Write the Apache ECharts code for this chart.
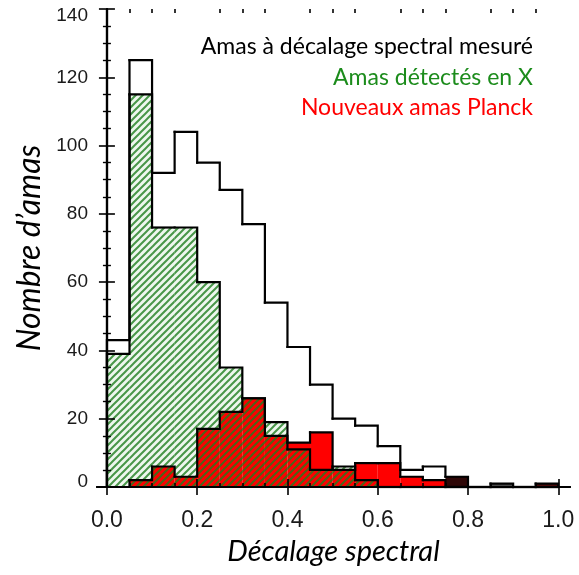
<!DOCTYPE html>
<html>
<head>
<meta charset="utf-8">
<script src="https://cdn.jsdelivr.net/npm/echarts@6/dist/echarts.min.js"></script>
<style>
  html, body { margin: 0; padding: 0; background: #fff; }
  #chart { width: 579px; height: 575px; }
</style>
</head>
<body>
<div id="chart"></div>
<script>
// Redshift histogram: bins of width 0.05 from 0.0 to 1.0
const binLeft = [0.00, 0.05, 0.10, 0.15, 0.20, 0.25, 0.30, 0.35, 0.40, 0.45,
                 0.50, 0.55, 0.60, 0.65, 0.70, 0.75, 0.80, 0.85, 0.90, 0.95];
const binWidth = 0.05;

// All clusters with a measured redshift
const totalCounts  = [43, 125, 92, 104, 95, 87, 77, 54, 41, 30, 20, 18, 12, 5, 6, 3, 0, 1, 0, 1];
// X-ray detected clusters
const xrayCounts   = [39, 115, 76, 76, 60, 35, 26, 19, 11, 5, 6, 2, 0, 0, 0, 0, 0, 0, 0, 0];
// New Planck clusters
const planckCounts = [0, 2, 6, 3, 17, 22, 26, 15, 13, 16, 5, 7, 7, 3, 2, 0, 0, 0, 0, 0];

const xTickLabels = [0.0, 0.2, 0.4, 0.6, 0.8, 1.0];
const legendTexts = ['Amas à décalage spectral mesuré', 'Amas détectés en X', 'Nouveaux amas Planck'];

// Dark fills of a few high-redshift bins of the full sample
const totalBinFill = { 15: '#2e0707', 17: '#5c5c5c', 19: '#5a0d0d' };

// Diagonal "/" hatch tile for the X-ray histogram
function makeHatch(p, color, width) {
  const c = document.createElement('canvas');
  c.width = p; c.height = p;
  const g = c.getContext('2d');
  g.strokeStyle = color;
  g.lineWidth = width;
  g.beginPath();
  for (const k of [0, 1, 2]) {          // lines x + y = k * p
    g.moveTo(-p, (k + 1) * p); g.lineTo((k + 1) * p, -p);
  }
  g.stroke();
  return c;
}
const hatchCanvas = makeHatch(7, 'rgba(30,125,30,0.8)', 2);

function toData(counts) {
  return binLeft.map((x, i) => [x, counts[i], i]);
}

function fillSeries(name, counts, fillFn, z) {
  return {
    type: 'custom', name, z, silent: true,
    xAxisIndex: 0, yAxisIndex: 0,
    data: toData(counts),
    encode: { x: 0, y: 1 },
    renderItem(params, api) {
      const x0 = api.value(0), v = api.value(1);
      if (!v) return null;
      const p0 = api.coord([x0, v]);
      const p1 = api.coord([x0 + binWidth, 0]);
      return {
        type: 'rect',
        shape: { x: p0[0], y: p0[1], width: p1[0] - p0[0], height: p1[1] - p0[1] },
        style: { fill: fillFn(api.value(2)), stroke: null }
      };
    }
  };
}

function outlineSeries(name, counts, z) {
  return {
    type: 'custom', name, z, silent: true,
    xAxisIndex: 0, yAxisIndex: 0,
    data: toData(counts),
    encode: { x: 0, y: 1 },
    renderItem(params, api) {
      const i = api.value(2);
      const x0 = api.value(0), v = api.value(1);
      const next = i + 1 < counts.length ? counts[i + 1] : 0;
      const pts = [];
      if (i === 0) pts.push(api.coord([x0, 0]));
      pts.push(api.coord([x0, v]));
      pts.push(api.coord([x0 + binWidth, v]));
      pts.push(api.coord([x0 + binWidth, next]));
      return {
        type: 'polyline',
        shape: { points: pts },
        style: { stroke: '#000', lineWidth: 2.2, fill: null, lineJoin: 'miter', lineCap: 'square' }
      };
    }
  };
}

const frameLine = { show: true, lineStyle: { color: '#000', width: 2.2 } };
const noLine = { show: false };
const tickFont = { fontFamily: 'Liberation Sans', color: '#1a1a1a' };
const titleFont = { fontFamily: 'Lato', fontStyle: 'italic', color: '#000' };

const xExtent = { min: -0.022, max: 1.026 };
const minorX = binLeft.concat([1.0]).filter(v => xTickLabels.every(m => Math.abs(m - v) > 1e-9));

function xAxisDef(gridIndex, position, values, len, line, withLabels) {
  return {
    type: 'value', gridIndex, position, ...xExtent, z: 20,
    axisLine: line,
    splitLine: { show: false },
    axisTick: { show: true, inside: true, length: len, customValues: values, lineStyle: { color: '#000', width: 1.6 } },
    axisLabel: withLabels
      ? Object.assign({ show: true, customValues: xTickLabels, margin: 22, fontSize: 23,
                        formatter: v => v.toFixed(1) }, tickFont)
      : { show: false }
  };
}

// End labels of the count axis sit slightly inside the frame
const yLabelRich = {
  top: { fontSize: 19, padding: [14, 0, 0, 0] },
  bot: { fontSize: 19, padding: [0, 0, 11, 0] },
  mid: { fontSize: 19 }
};

function yAxisDef(gridIndex, position, withLabels, visible) {
  return {
    type: 'value', gridIndex, position, min: 0, max: 140, interval: 20, z: 20,
    show: visible,
    axisLine: frameLine,
    splitLine: { show: false },
    axisTick: { show: true, inside: true, length: 8, lineStyle: { color: '#000', width: 1.6 } },
    minorTick: { show: true, splitNumber: 4, length: 4, lineStyle: { color: '#000', width: 1.4 } },
    axisLabel: withLabels
      ? Object.assign({
          show: true, margin: 9, fontSize: 19, rich: yLabelRich,
          formatter: v => (v === 140 ? '{top|' + v + '}' : v === 0 ? '{bot|' + v + '}' : '{mid|' + v + '}')
        }, tickFont)
      : { show: false },
    name: withLabels ? 'Nombre d’amas' : '',
    nameLocation: 'middle',
    nameGap: 48,
    nameTextStyle: Object.assign({ fontSize: 32 }, titleFont)
  };
}

// Grid 0 carries the data, the frame and the major x ticks; grid 1 (same box) the minor x ticks
const gridBox = { left: 97, right: 9, top: 9, bottom: 88, containLabel: false };

const xAxes = [
  xAxisDef(0, 'bottom', xTickLabels, 8, frameLine, true),
  xAxisDef(0, 'top', xTickLabels, 8, frameLine, false),
  xAxisDef(1, 'bottom', minorX, 4, noLine, false),
  xAxisDef(1, 'top', minorX, 4, noLine, false)
];
Object.assign(xAxes[0], {
  name: 'Décalage spectral', nameLocation: 'middle', nameGap: 47,
  nameTextStyle: Object.assign({ fontSize: 29 }, titleFont)
});

const chart = echarts.init(document.getElementById('chart'), null, { renderer: 'canvas' });

chart.setOption({
  backgroundColor: '#fff',
  animation: false,
  grid: [Object.assign({}, gridBox), Object.assign({}, gridBox)],
  xAxis: xAxes,
  yAxis: [
    yAxisDef(0, 'left', true, true),
    yAxisDef(0, 'right', false, true),
    yAxisDef(1, 'left', false, false)
  ],
  series: [
    fillSeries('total-fill', totalCounts, i => totalBinFill[i] || '#ffffff', 1),
    fillSeries('xray-tint', xrayCounts, () => '#eef7ee', 2),
    fillSeries('planck-fill', planckCounts, () => '#ff0000', 3),
    fillSeries('xray-hatch', xrayCounts, () => ({ image: hatchCanvas, repeat: 'repeat' }), 4),
    outlineSeries('total-line', totalCounts, 5),
    outlineSeries('xray-line', xrayCounts, 6),
    outlineSeries('planck-line', planckCounts, 7)
  ],
  graphic: [
    { type: 'text', x: 533, y: 47, z: 30,
      style: { text: legendTexts[0], fill: '#000', font: '23px Lato', textAlign: 'right', textVerticalAlign: 'middle' } },
    { type: 'text', x: 533, y: 78, z: 30,
      style: { text: legendTexts[1], fill: '#1c8c1c', font: '23px Lato', textAlign: 'right', textVerticalAlign: 'middle' } },
    { type: 'text', x: 533, y: 108, z: 30,
      style: { text: legendTexts[2], fill: '#ff0000', font: '23px Lato', textAlign: 'right', textVerticalAlign: 'middle' } }
  ]
});
</script>
</body>
</html>
